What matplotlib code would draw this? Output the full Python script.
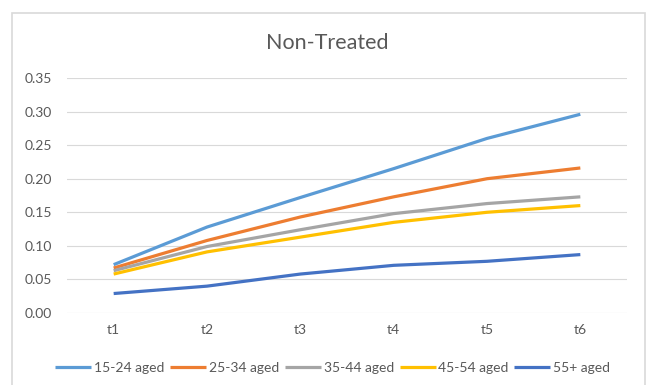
import matplotlib.pyplot as plt
from matplotlib.patches import Rectangle

periods = ["t1", "t2", "t3", "t4", "t5", "t6"]
age_groups = ["15-24 aged", "25-34 aged", "35-44 aged", "45-54 aged", "55+ aged"]
aged_15_24 = [0.072, 0.128, 0.172, 0.215, 0.260, 0.296]
aged_25_34 = [0.067, 0.108, 0.143, 0.173, 0.200, 0.216]
aged_35_44 = [0.063, 0.099, 0.124, 0.148, 0.163, 0.173]
aged_45_54 = [0.058, 0.091, 0.113, 0.135, 0.150, 0.160]
aged_55_up = [0.029, 0.040, 0.058, 0.071, 0.077, 0.087]
colors = ["#5B9BD5", "#ED7D31", "#A5A5A5", "#FFC000", "#4472C4"]

plt.rcParams["font.family"] = ["Lato", "DejaVu Sans"]
text_color = "#595959"

fig = plt.figure(figsize=(6.5, 3.85), dpi=100)
# chart frame
fig.patches.append(Rectangle((12 / 650, -0.1), 633 / 650, 1.1 - 13 / 385,
                             transform=fig.transFigure, fill=False,
                             edgecolor="#D9D9D9", linewidth=1.2))

ax = fig.add_axes([67 / 650, 1 - 313 / 385, 560 / 650, 235 / 385])
series = [aged_15_24, aged_25_34, aged_35_44, aged_45_54, aged_55_up]
x = range(len(periods))
for name, vals, c in zip(age_groups, series, colors):
    ax.plot(x, vals, color=c, linewidth=2.3, label=name, solid_capstyle="butt")

ax.set_xlim(-0.5, len(periods) - 0.5)
ax.set_ylim(0, 0.35)
ax.set_yticks([i * 0.05 for i in range(8)])
ax.set_yticklabels([f"{i * 0.05:.2f}" for i in range(8)])
ax.set_xticks(list(x))
ax.set_xticklabels(periods)
ax.grid(axis="y", color="#D9D9D9", linewidth=0.8)
ax.set_axisbelow(True)
for s in ax.spines.values():
    s.set_visible(False)
ax.tick_params(length=0, labelsize=10, colors=text_color, pad=8)
ax.tick_params(axis="y", pad=11)

fig.text(0.503, 1 - 43 / 385, "Non-Treated", ha="center", va="center",
         fontsize=15.5, color=text_color)

fig.legend(loc="center", bbox_to_anchor=(0.512, 1 - 368 / 385), ncol=5,
           frameon=False, fontsize=10, handlelength=2.6, handletextpad=0.2,
           columnspacing=0.4, labelcolor=text_color)

fig.savefig("out.png", dpi=100)
